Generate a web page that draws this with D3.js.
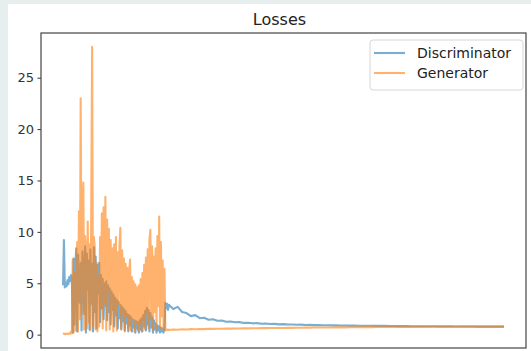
<!DOCTYPE html>
<html>
<head>
<meta charset="utf-8">
<script src="https://cdn.jsdelivr.net/npm/d3@7"></script>
<style>
  html, body { margin: 0; padding: 0; background: #e6efee; }
  svg { display: block; }
</style>
</head>
<body>
<div id="chart"></div>
<script>

// iterations 0..1190, every 10 steps
var discEarly = [
    4.8, 9.2, 4.6, 5.0, 4.7, 5.3, 4.9, 5.6, 5.2, 5.8,
    5.4, 0.2, 7.4, 1.0, 6.8, 8.4, 0.3, 7.8, 5.2, 3.1,
    7.0, 0.4, 8.1, 6.5, 2.0, 8.6, 0.2, 7.9, 4.4, 7.2,
    0.5, 8.3, 3.0, 6.9, 0.3, 8.5, 2.2, 7.6, 0.6, 6.8,
    4.0, 7.0, 1.2, 5.8, 2.6, 5.4, 1.5, 5.0, 2.8, 5.2,
    1.4, 4.8, 2.2, 4.5, 1.0, 4.2, 2.4, 3.9, 0.8, 3.6,
    1.9, 3.4, 0.6, 3.2, 1.6, 2.9, 0.5, 2.7, 1.3, 2.5,
    0.4, 2.3, 1.1, 2.0, 0.3, 1.9, 0.9, 1.7, 0.3, 1.5,
    0.7, 1.4, 0.2, 1.3, 0.6, 1.2, 0.2, 1.4, 0.5, 1.6,
    0.3, 1.9, 0.8, 2.3, 0.4, 2.6, 1.0, 2.4, 0.3, 2.1,
    0.7, 1.7, 0.2, 1.4, 0.5, 1.1, 0.2, 0.9, 0.4, 0.8,
    0.2, 0.7, 0.3, 0.6, 0.2, 0.5, 3.1, 2.6, 3.0, 2.4
];

var genEarly = [
    0.05, 0.1, 0.04, 0.08, 0.05, 0.1, 0.06, 0.12, 0.08, 0.3,
    0.15, 7.3, 0.2, 6.0, 0.4, 3.5, 9.0, 0.3, 12.0, 1.5,
    23.0, 2.0, 10.5, 14.8, 0.5, 9.6, 7.8, 0.6, 11.0, 1.2,
    8.8, 0.4, 12.6, 28.0, 0.8, 9.5, 8.5, 0.5, 7.0, 0.3,
    5.6, 0.8, 9.5, 2.5, 11.8, 0.6, 12.4, 3.0, 13.4, 0.4,
    11.2, 4.2, 10.3, 0.5, 9.2, 3.2, 8.4, 0.3, 8.8, 2.4,
    9.5, 0.4, 8.0, 3.0, 8.6, 10.4, 0.6, 8.2, 2.2, 7.4,
    0.3, 6.9, 1.8, 6.5, 0.5, 6.1, 7.3, 0.4, 5.6, 1.6,
    5.2, 0.3, 4.9, 1.2, 4.6, 0.4, 4.8, 1.0, 5.4, 0.3,
    6.0, 1.4, 6.8, 0.5, 7.5, 2.0, 8.3, 0.6, 9.2, 10.2,
    1.5, 8.6, 0.4, 7.6, 2.2, 8.4, 0.5, 9.6, 2.8, 11.5,
    0.6, 9.0, 1.8, 7.2, 0.5, 6.4, 0.4, 0.5, 0.45, 0.5
];

// iterations 1200..5000, every 50 steps
var discLate = [
    2.9, 2.5, 2.7, 2.2, 2.1, 1.8, 1.9, 1.6, 1.65, 1.45,
    1.5, 1.35, 1.38, 1.25, 1.28, 1.2, 1.22, 1.14, 1.16, 1.1,
    1.12, 1.06, 1.08, 1.03, 1.05, 1.0, 1.02, 0.98, 0.99, 0.96,
    0.97, 0.94, 0.95, 0.93, 0.93, 0.91, 0.92, 0.9, 0.9, 0.89,
    0.89, 0.88, 0.88, 0.87, 0.87, 0.86, 0.86, 0.85, 0.85, 0.85,
    0.84, 0.84, 0.83, 0.83, 0.83, 0.82, 0.82, 0.82, 0.81, 0.81,
    0.81, 0.8, 0.8, 0.8, 0.8, 0.79, 0.79, 0.79, 0.79, 0.79,
    0.78, 0.78, 0.78, 0.78, 0.78, 0.78, 0.78
];

var genLate = [
    0.45, 0.5, 0.47, 0.52, 0.5, 0.54, 0.52, 0.55, 0.54, 0.57,
    0.56, 0.58, 0.57, 0.59, 0.59, 0.6, 0.6, 0.61, 0.61, 0.62,
    0.62, 0.63, 0.63, 0.64, 0.64, 0.65, 0.65, 0.66, 0.66, 0.67,
    0.67, 0.68, 0.68, 0.69, 0.69, 0.7, 0.7, 0.7, 0.71, 0.71,
    0.71, 0.72, 0.72, 0.72, 0.73, 0.73, 0.73, 0.74, 0.74, 0.74,
    0.74, 0.75, 0.75, 0.75, 0.75, 0.76, 0.76, 0.76, 0.76, 0.76,
    0.77, 0.77, 0.77, 0.77, 0.77, 0.77, 0.78, 0.78, 0.78, 0.78,
    0.78, 0.78, 0.78, 0.78, 0.78, 0.78, 0.78
];

var seriesNames = ["Discriminator", "Generator"];
var yTicks = [0, 5, 10, 15, 20, 25];


function toPoints(early, late) {
    var pts = [];
    early.forEach(function(v, i) { pts.push([i * 10, v]); });
    late.forEach(function(v, i) { pts.push([1200 + i * 50, v]); });
    return pts;
}

var series = [
    { name: seriesNames[0], color: "#1f77b4", points: toPoints(discEarly, discLate) },
    { name: seriesNames[1], color: "#ff7f0e", points: toPoints(genEarly, genLate) }
];

var W = 531, H = 351;
var margin = { top: 33, right: 5, bottom: 3, left: 41 },
    width = W - margin.left - margin.right,
    height = H - margin.top - margin.bottom;

var root = d3.select("#chart")
    .append("svg")
    .attr("width", W)
    .attr("height", H)
    .style("font-family", "'DejaVu Sans', sans-serif");

// figure background (page shows a strip on top and left)
root.append("rect")
    .attr("x", 8).attr("y", 4)
    .attr("width", W - 8).attr("height", H - 4)
    .attr("fill", "#ffffff");

var svg = root.append("g")
    .attr("transform", "translate(" + margin.left + "," + margin.top + ")");

// Add X axis scale (5% padding like matplotlib)
var x = d3.scaleLinear()
    .domain([-250, 5250])
    .range([0, width]);

// Add Y axis
var y = d3.scaleLinear()
    .domain([-1.3, 29.35])
    .range([height, 0]);

var yAxis = svg.append("g")
    .call(d3.axisLeft(y).tickValues(yTicks).tickSize(3.5).tickPadding(3.5));
yAxis.select(".domain").remove();
yAxis.selectAll("line").attr("stroke", "#333");
yAxis.selectAll("text")
    .attr("fill", "#333")
    .style("font-size", "13px")
    .style("font-family", "'DejaVu Sans', sans-serif");

svg.append("clipPath")
    .attr("id", "clip")
    .append("rect")
    .attr("width", width)
    .attr("height", height);

var line = d3.line()
    .x(function(d) { return x(d[0]); })
    .y(function(d) { return y(d[1]); });

svg.append("g")
    .attr("clip-path", "url(#clip)")
    .selectAll("path")
    .data(series)
    .enter()
    .append("path")
    .attr("d", function(d) { return line(d.points); })
    .attr("fill", "none")
    .attr("stroke", function(d) { return d.color; })
    .attr("stroke-opacity", 0.6)
    .attr("stroke-width", 2.1)
    .attr("stroke-linejoin", "round");

// frame
svg.append("rect")
    .attr("width", width)
    .attr("height", height)
    .attr("fill", "none")
    .attr("stroke", "#444")
    .attr("stroke-width", 1.2);

// title
root.append("text")
    .attr("x", margin.left + width / 2 - 4)
    .attr("y", 25)
    .attr("text-anchor", "middle")
    .style("font-size", "16px")
    .attr("fill", "#222")
    .text("Losses");

// legend
var legend = root.append("g")
    .attr("transform", "translate(370,40)");

legend.append("rect")
    .attr("width", 153)
    .attr("height", 50)
    .attr("rx", 3)
    .attr("fill", "#fff")
    .attr("fill-opacity", 0.8)
    .attr("stroke", "#d6d6d6");

series.forEach(function(s, i) {
    var ly = 13 + i * 20;
    legend.append("line")
        .attr("x1", 4).attr("x2", 35)
        .attr("y1", ly).attr("y2", ly)
        .attr("stroke", s.color)
        .attr("stroke-opacity", 0.6)
        .attr("stroke-width", 2.1);
    legend.append("text")
        .attr("x", 47)
        .attr("y", ly)
        .attr("dy", "0.35em")
        .style("font-size", "14px")
        .attr("fill", "#222")
        .text(s.name);
});

</script>
</body>
</html>
